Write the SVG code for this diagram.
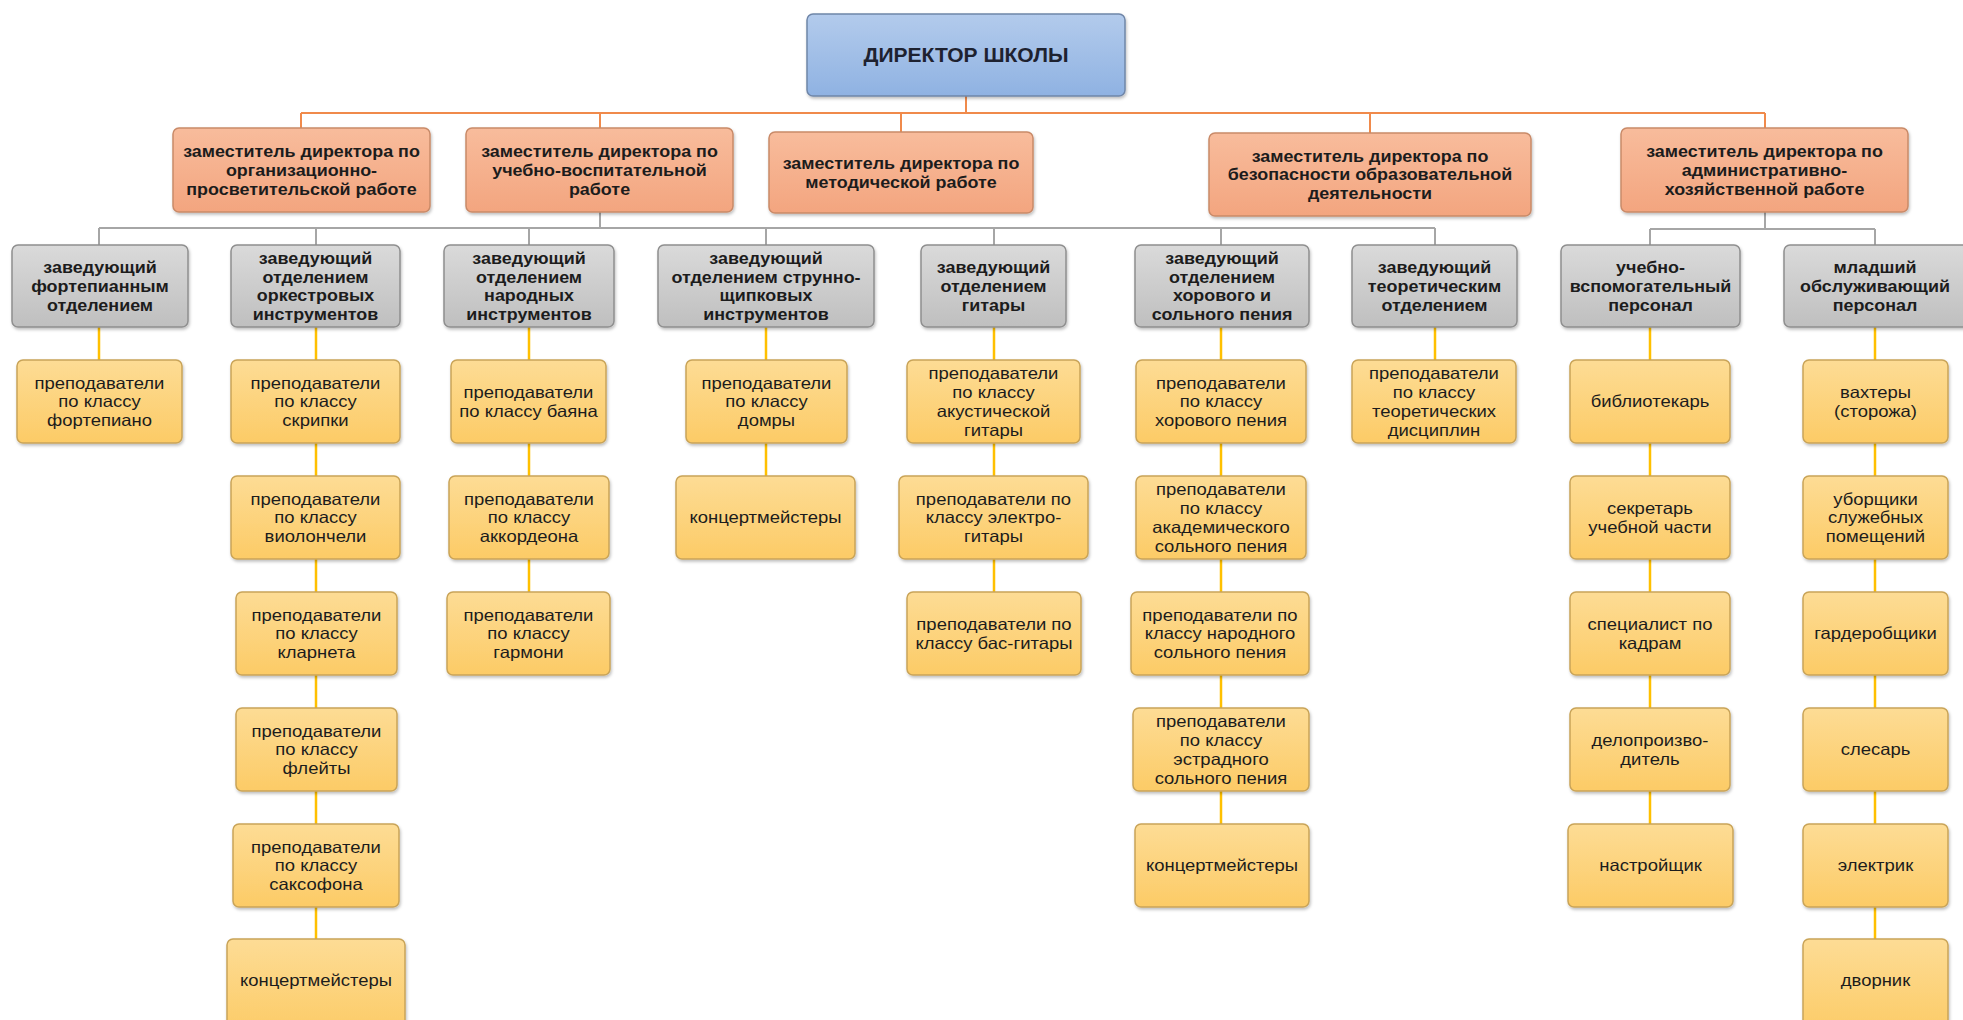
<svg xmlns="http://www.w3.org/2000/svg" width="1963" height="1020" viewBox="0 0 1963 1020">
<defs>
<linearGradient id="gBlue" x1="0" y1="0" x2="0" y2="1"><stop offset="0" stop-color="#b3cbec"/><stop offset="1" stop-color="#8fb2e2"/></linearGradient>
<linearGradient id="gOr" x1="0" y1="0" x2="0" y2="1"><stop offset="0" stop-color="#f8bc9c"/><stop offset="1" stop-color="#f3a57f"/></linearGradient>
<linearGradient id="gGr" x1="0" y1="0" x2="0" y2="1"><stop offset="0" stop-color="#dadada"/><stop offset="1" stop-color="#bfbfbf"/></linearGradient>
<linearGradient id="gYe" x1="0" y1="0" x2="0" y2="1"><stop offset="0" stop-color="#fddc95"/><stop offset="1" stop-color="#fccb66"/></linearGradient>
<filter id="sh" x="-10%" y="-10%" width="120%" height="130%"><feDropShadow dx="1" dy="2" stdDeviation="1.5" flood-color="#000" flood-opacity="0.25"/></filter>
</defs>
<style>
.dir{fill:url(#gBlue);stroke:#6f86a8;stroke-width:1.5;filter:url(#sh)}
.dep{fill:url(#gOr);stroke:#c98a68;stroke-width:1.5;filter:url(#sh)}
.grb{fill:url(#gGr);stroke:#8f8f8f;stroke-width:1.5;filter:url(#sh)}
.yb{fill:url(#gYe);stroke:#c9a458;stroke-width:1.5;filter:url(#sh)}
text{font-family:"Liberation Sans",Arial,sans-serif;text-anchor:middle;fill:#1c1c1c}
.td{font-size:21px;font-weight:bold;fill:#1e2230}
.tb{font-size:16px;font-weight:bold}
.tr{font-size:16.5px}
.co{fill:none;stroke:#f08a4b;stroke-width:2}
.cg{fill:none;stroke:#a6a6a6;stroke-width:2}
.cy{fill:none;stroke:#ffc000;stroke-width:2.5}
</style>
<rect width="1963" height="1020" fill="#ffffff"/>
<g id="connectors">
<path class="co" d="M966 96V113M301 113H1765M301 113V128M600 113V128M901 113V132M1370 113V133M1765 113V128"/>
<path class="cg" d="M600 212V228M99 228H1435M99 228V245M316 228V245M529 228V245M766 228V245M994 228V245M1221 228V245M1435 228V245M1765 212V229M1650 229H1875M1650 229V245M1875 229V245"/>
<path class="cy" d="M99 327V360M316 327V939M529 327V592M766 327V476M994 327V592M1221 327V824M1435 327V360M1650 327V824M1875 327V939"/>
</g>
<g id="director"><rect class="dir" x="807" y="14" width="318" height="82" rx="6"/><text class="td" x="966" y="62">ДИРЕКТОР ШКОЛЫ</text></g>

<g id="dep1"><rect class="dep" x="173" y="128" width="257" height="84" rx="6"/><g transform="translate(301.5 0) scale(1.12 1)"><text class="tb"><tspan x="0" y="157.3">заместитель директора по</tspan><tspan x="0" y="176">организационно-</tspan><tspan x="0" y="194.7">просветительской работе</tspan></text></g></g>
<g id="dep2"><rect class="dep" x="466" y="128" width="267" height="84" rx="6"/><g transform="translate(599.5 0) scale(1.12 1)"><text class="tb"><tspan x="0" y="157.3">заместитель директора по</tspan><tspan x="0" y="176">учебно-воспитательной</tspan><tspan x="0" y="194.7">работе</tspan></text></g></g>
<g id="dep3"><rect class="dep" x="769" y="132" width="264" height="81" rx="6"/><g transform="translate(901 0) scale(1.12 1)"><text class="tb"><tspan x="0" y="169.2">заместитель директора по</tspan><tspan x="0" y="187.9">методической работе</tspan></text></g></g>
<g id="dep4"><rect class="dep" x="1209" y="133" width="322" height="83" rx="6"/><g transform="translate(1370 0) scale(1.12 1)"><text class="tb"><tspan x="0" y="161.8">заместитель директора по</tspan><tspan x="0" y="180.5">безопасности образовательной</tspan><tspan x="0" y="199.2">деятельности</tspan></text></g></g>
<g id="dep5"><rect class="dep" x="1621" y="128" width="287" height="84" rx="6"/><g transform="translate(1764.5 0) scale(1.12 1)"><text class="tb"><tspan x="0" y="157.3">заместитель директора по</tspan><tspan x="0" y="176">административно-</tspan><tspan x="0" y="194.7">хозяйственной работе</tspan></text></g></g>

<g id="head1"><rect class="grb" x="12" y="245" width="176" height="82" rx="6"/><g transform="translate(100 0) scale(1.12 1)"><text class="tb"><tspan x="0" y="273.2">заведующий</tspan><tspan x="0" y="292">фортепианным</tspan><tspan x="0" y="310.8">отделением</tspan></text></g></g>
<g id="head2"><rect class="grb" x="231" y="245" width="169" height="82" rx="6"/><g transform="translate(315.5 0) scale(1.12 1)"><text class="tb"><tspan x="0" y="263.8">заведующий</tspan><tspan x="0" y="282.6">отделением</tspan><tspan x="0" y="301.4">оркестровых</tspan><tspan x="0" y="320.2">инструментов</tspan></text></g></g>
<g id="head3"><rect class="grb" x="444" y="245" width="170" height="82" rx="6"/><g transform="translate(529 0) scale(1.12 1)"><text class="tb"><tspan x="0" y="263.8">заведующий</tspan><tspan x="0" y="282.6">отделением</tspan><tspan x="0" y="301.4">народных</tspan><tspan x="0" y="320.2">инструментов</tspan></text></g></g>
<g id="head4"><rect class="grb" x="658" y="245" width="216" height="82" rx="6"/><g transform="translate(766 0) scale(1.12 1)"><text class="tb"><tspan x="0" y="263.8">заведующий</tspan><tspan x="0" y="282.6">отделением струнно-</tspan><tspan x="0" y="301.4">щипковых</tspan><tspan x="0" y="320.2">инструментов</tspan></text></g></g>
<g id="head5"><rect class="grb" x="921" y="245" width="145" height="82" rx="6"/><g transform="translate(993.5 0) scale(1.12 1)"><text class="tb"><tspan x="0" y="273.2">заведующий</tspan><tspan x="0" y="292">отделением</tspan><tspan x="0" y="310.8">гитары</tspan></text></g></g>
<g id="head6"><rect class="grb" x="1135" y="245" width="174" height="82" rx="6"/><g transform="translate(1222 0) scale(1.12 1)"><text class="tb"><tspan x="0" y="263.8">заведующий</tspan><tspan x="0" y="282.6">отделением</tspan><tspan x="0" y="301.4">хорового и</tspan><tspan x="0" y="320.2">сольного пения</tspan></text></g></g>
<g id="head7"><rect class="grb" x="1352" y="245" width="165" height="82" rx="6"/><g transform="translate(1434.5 0) scale(1.12 1)"><text class="tb"><tspan x="0" y="273.2">заведующий</tspan><tspan x="0" y="292">теоретическим</tspan><tspan x="0" y="310.8">отделением</tspan></text></g></g>
<g id="head8"><rect class="grb" x="1561" y="245" width="179" height="82" rx="6"/><g transform="translate(1650.5 0) scale(1.12 1)"><text class="tb"><tspan x="0" y="273.2">учебно-</tspan><tspan x="0" y="292">вспомогательный</tspan><tspan x="0" y="310.8">персонал</tspan></text></g></g>
<g id="head9"><rect class="grb" x="1784" y="245" width="185" height="82" rx="6"/><g transform="translate(1875 0) scale(1.12 1)"><text class="tb"><tspan x="0" y="273.2">младший</tspan><tspan x="0" y="292">обслуживающий</tspan><tspan x="0" y="310.8">персонал</tspan></text></g></g>

<g id="piano"><rect class="yb" x="17" y="360" width="165" height="83" rx="6"/><g transform="translate(99.5 0) scale(1.12 1)"><text class="tr"><tspan x="0" y="388.8">преподаватели</tspan><tspan x="0" y="407.5">по классу</tspan><tspan x="0" y="426.2">фортепиано</tspan></text></g></g>

<g id="violin"><rect class="yb" x="231" y="360" width="169" height="83" rx="6"/><g transform="translate(315.5 0) scale(1.12 1)"><text class="tr"><tspan x="0" y="388.8">преподаватели</tspan><tspan x="0" y="407.5">по классу</tspan><tspan x="0" y="426.2">скрипки</tspan></text></g></g>
<g id="cello"><rect class="yb" x="231" y="476" width="169" height="83" rx="6"/><g transform="translate(315.5 0) scale(1.12 1)"><text class="tr"><tspan x="0" y="504.8">преподаватели</tspan><tspan x="0" y="523.5">по классу</tspan><tspan x="0" y="542.2">виолончели</tspan></text></g></g>
<g id="clarinet"><rect class="yb" x="236" y="592" width="161" height="83" rx="6"/><g transform="translate(316.5 0) scale(1.12 1)"><text class="tr"><tspan x="0" y="620.8">преподаватели</tspan><tspan x="0" y="639.5">по классу</tspan><tspan x="0" y="658.2">кларнета</tspan></text></g></g>
<g id="flute"><rect class="yb" x="236" y="708" width="161" height="83" rx="6"/><g transform="translate(316.5 0) scale(1.12 1)"><text class="tr"><tspan x="0" y="736.8">преподаватели</tspan><tspan x="0" y="755.5">по классу</tspan><tspan x="0" y="774.2">флейты</tspan></text></g></g>
<g id="sax"><rect class="yb" x="233" y="824" width="166" height="83" rx="6"/><g transform="translate(316 0) scale(1.12 1)"><text class="tr"><tspan x="0" y="852.8">преподаватели</tspan><tspan x="0" y="871.5">по классу</tspan><tspan x="0" y="890.2">саксофона</tspan></text></g></g>
<g id="acc1"><rect class="yb" x="227" y="939" width="178" height="95" rx="6"/><g transform="translate(316 0) scale(1.12 1)"><text class="tr"><tspan x="0" y="986.5">концертмейстеры</tspan></text></g></g>

<g id="bayan"><rect class="yb" x="451" y="360" width="155" height="83" rx="6"/><g transform="translate(528.5 0) scale(1.12 1)"><text class="tr"><tspan x="0" y="398.2">преподаватели</tspan><tspan x="0" y="416.9">по классу баяна</tspan></text></g></g>
<g id="accordion"><rect class="yb" x="449" y="476" width="160" height="83" rx="6"/><g transform="translate(529 0) scale(1.12 1)"><text class="tr"><tspan x="0" y="504.8">преподаватели</tspan><tspan x="0" y="523.5">по классу</tspan><tspan x="0" y="542.2">аккордеона</tspan></text></g></g>
<g id="garmon"><rect class="yb" x="447" y="592" width="163" height="83" rx="6"/><g transform="translate(528.5 0) scale(1.12 1)"><text class="tr"><tspan x="0" y="620.8">преподаватели</tspan><tspan x="0" y="639.5">по классу</tspan><tspan x="0" y="658.2">гармони</tspan></text></g></g>

<g id="domra"><rect class="yb" x="686" y="360" width="161" height="83" rx="6"/><g transform="translate(766.5 0) scale(1.12 1)"><text class="tr"><tspan x="0" y="388.8">преподаватели</tspan><tspan x="0" y="407.5">по классу</tspan><tspan x="0" y="426.2">домры</tspan></text></g></g>
<g id="acc2"><rect class="yb" x="676" y="476" width="179" height="83" rx="6"/><g transform="translate(765.5 0) scale(1.12 1)"><text class="tr"><tspan x="0" y="523.5">концертмейстеры</tspan></text></g></g>

<g id="acoustic"><rect class="yb" x="907" y="360" width="173" height="83" rx="6"/><g transform="translate(993.5 0) scale(1.12 1)"><text class="tr"><tspan x="0" y="379.5">преподаватели</tspan><tspan x="0" y="398.2">по классу</tspan><tspan x="0" y="416.9">акустической</tspan><tspan x="0" y="435.6">гитары</tspan></text></g></g>
<g id="electro"><rect class="yb" x="899" y="476" width="189" height="83" rx="6"/><g transform="translate(993.5 0) scale(1.12 1)"><text class="tr"><tspan x="0" y="504.8">преподаватели по</tspan><tspan x="0" y="523.5">классу электро-</tspan><tspan x="0" y="542.2">гитары</tspan></text></g></g>
<g id="bass"><rect class="yb" x="907" y="592" width="174" height="83" rx="6"/><g transform="translate(994 0) scale(1.12 1)"><text class="tr"><tspan x="0" y="630.2">преподаватели по</tspan><tspan x="0" y="648.9">классу бас-гитары</tspan></text></g></g>

<g id="choir"><rect class="yb" x="1136" y="360" width="170" height="83" rx="6"/><g transform="translate(1221 0) scale(1.12 1)"><text class="tr"><tspan x="0" y="388.8">преподаватели</tspan><tspan x="0" y="407.5">по классу</tspan><tspan x="0" y="426.2">хорового пения</tspan></text></g></g>
<g id="academic"><rect class="yb" x="1136" y="476" width="170" height="83" rx="6"/><g transform="translate(1221 0) scale(1.12 1)"><text class="tr"><tspan x="0" y="495.5">преподаватели</tspan><tspan x="0" y="514.2">по классу</tspan><tspan x="0" y="532.9">академического</tspan><tspan x="0" y="551.6">сольного пения</tspan></text></g></g>
<g id="folk"><rect class="yb" x="1131" y="592" width="178" height="83" rx="6"/><g transform="translate(1220 0) scale(1.12 1)"><text class="tr"><tspan x="0" y="620.8">преподаватели по</tspan><tspan x="0" y="639.5">классу народного</tspan><tspan x="0" y="658.2">сольного пения</tspan></text></g></g>
<g id="estrada"><rect class="yb" x="1133" y="708" width="176" height="83" rx="6"/><g transform="translate(1221 0) scale(1.12 1)"><text class="tr"><tspan x="0" y="727.5">преподаватели</tspan><tspan x="0" y="746.2">по классу</tspan><tspan x="0" y="764.9">эстрадного</tspan><tspan x="0" y="783.6">сольного пения</tspan></text></g></g>
<g id="acc3"><rect class="yb" x="1135" y="824" width="174" height="83" rx="6"/><g transform="translate(1222 0) scale(1.12 1)"><text class="tr"><tspan x="0" y="871.5">концертмейстеры</tspan></text></g></g>

<g id="theory"><rect class="yb" x="1352" y="360" width="164" height="83" rx="6"/><g transform="translate(1434 0) scale(1.12 1)"><text class="tr"><tspan x="0" y="379.5">преподаватели</tspan><tspan x="0" y="398.2">по классу</tspan><tspan x="0" y="416.9">теоретических</tspan><tspan x="0" y="435.6">дисциплин</tspan></text></g></g>

<g id="librarian"><rect class="yb" x="1570" y="360" width="160" height="83" rx="6"/><g transform="translate(1650 0) scale(1.12 1)"><text class="tr"><tspan x="0" y="407.5">библиотекарь</tspan></text></g></g>
<g id="secretary"><rect class="yb" x="1570" y="476" width="160" height="83" rx="6"/><g transform="translate(1650 0) scale(1.12 1)"><text class="tr"><tspan x="0" y="514.2">секретарь</tspan><tspan x="0" y="532.9">учебной части</tspan></text></g></g>
<g id="hr"><rect class="yb" x="1570" y="592" width="160" height="83" rx="6"/><g transform="translate(1650 0) scale(1.12 1)"><text class="tr"><tspan x="0" y="630.2">специалист по</tspan><tspan x="0" y="648.9">кадрам</tspan></text></g></g>
<g id="clerk"><rect class="yb" x="1570" y="708" width="160" height="83" rx="6"/><g transform="translate(1650 0) scale(1.12 1)"><text class="tr"><tspan x="0" y="746.2">делопроизво-</tspan><tspan x="0" y="764.9">дитель</tspan></text></g></g>
<g id="tuner"><rect class="yb" x="1568" y="824" width="165" height="83" rx="6"/><g transform="translate(1650.5 0) scale(1.12 1)"><text class="tr"><tspan x="0" y="871.5">настройщик</tspan></text></g></g>

<g id="watch"><rect class="yb" x="1803" y="360" width="145" height="83" rx="6"/><g transform="translate(1875.5 0) scale(1.12 1)"><text class="tr"><tspan x="0" y="398.2">вахтеры</tspan><tspan x="0" y="416.9">(сторожа)</tspan></text></g></g>
<g id="cleaners"><rect class="yb" x="1803" y="476" width="145" height="83" rx="6"/><g transform="translate(1875.5 0) scale(1.12 1)"><text class="tr"><tspan x="0" y="504.8">уборщики</tspan><tspan x="0" y="523.5">служебных</tspan><tspan x="0" y="542.2">помещений</tspan></text></g></g>
<g id="cloak"><rect class="yb" x="1803" y="592" width="145" height="83" rx="6"/><g transform="translate(1875.5 0) scale(1.12 1)"><text class="tr"><tspan x="0" y="639.5">гардеробщики</tspan></text></g></g>
<g id="locksmith"><rect class="yb" x="1803" y="708" width="145" height="83" rx="6"/><g transform="translate(1875.5 0) scale(1.12 1)"><text class="tr"><tspan x="0" y="755.5">слесарь</tspan></text></g></g>
<g id="electrician"><rect class="yb" x="1803" y="824" width="145" height="83" rx="6"/><g transform="translate(1875.5 0) scale(1.12 1)"><text class="tr"><tspan x="0" y="871.5">электрик</tspan></text></g></g>
<g id="janitor"><rect class="yb" x="1803" y="939" width="145" height="95" rx="6"/><g transform="translate(1875.5 0) scale(1.12 1)"><text class="tr"><tspan x="0" y="986.5">дворник</tspan></text></g></g>
</svg>
